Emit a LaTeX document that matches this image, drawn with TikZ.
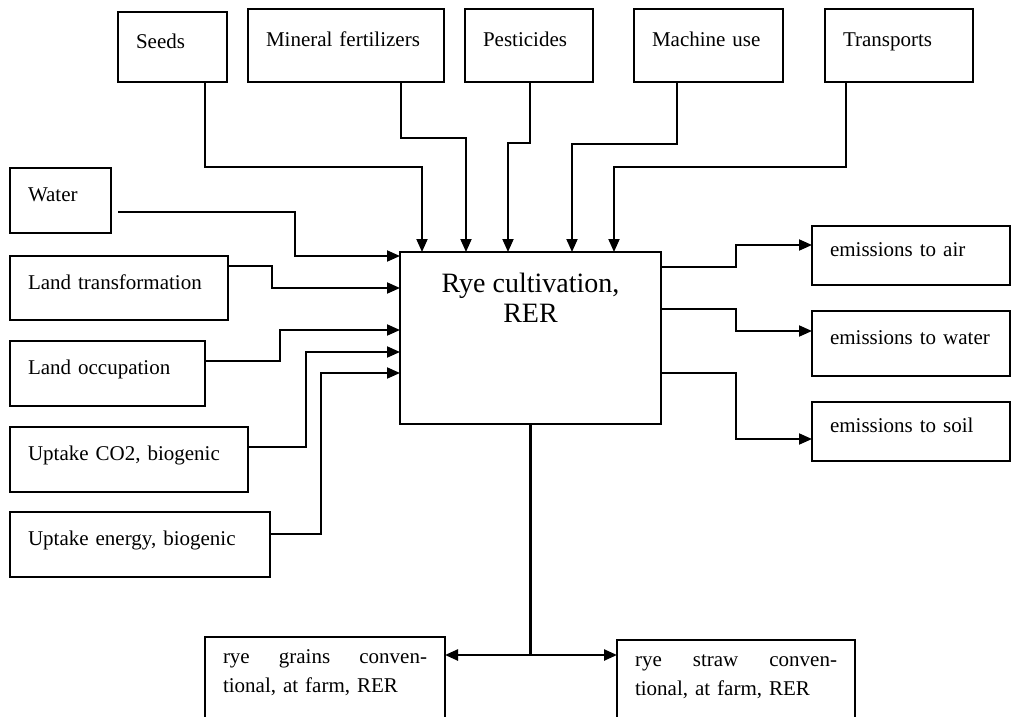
\documentclass[tikz,border=0pt]{standalone}
\usepackage{fontspec}
\setmainfont{Liberation Serif}
\usetikzlibrary{arrows.meta,calc}
\begin{document}
\begin{tikzpicture}[x=1pt,y=-1pt,
  every node/.style={font=\fontsize{21}{29}\selectfont, outer sep=0pt},
  bx/.style={draw, line width=1.3pt, rectangle, anchor=north west,
    inner xsep=18pt, inner ysep=0pt, align=left,
    text height=0.7em, text depth=0.45em},
  outbox/.style={draw, line width=1.3pt, rectangle, anchor=north west,
    inner xsep=18pt, inner ysep=11pt, align=left, text depth=110pt},
  arr/.style={line width=1.9pt, -{Triangle[length=13pt,width=11pt]}},
  dbl/.style={line width=2.4pt, {Triangle[length=13pt,width=11pt]}-{Triangle[length=13pt,width=11pt]}}]

\useasboundingbox (0,0) rectangle (1017,717);
\clip (0,0) rectangle (1017,717);
\fill[white] (0,0) rectangle (1017,717);

% inputs from the technosphere
\node[bx, text width=73pt,  minimum height=70pt] (seeds) at (118,12) {Seeds};
\node[bx, text width=160pt, minimum height=73pt] (fert)  at (248,9)  {Mineral fertilizers};
\node[bx, text width=92pt,  minimum height=73pt] (pest)  at (465,9)  {Pesticides};
\node[bx, text width=113pt, minimum height=73pt] (mach)  at (634,9)  {Machine use};
\node[bx, text width=112pt, minimum height=73pt] (trans) at (825,9)  {Transports};

% inputs from nature
\node[bx, text width=65pt,  minimum height=65pt] (water)   at (10,168) {Water};
\node[bx, text width=182pt, minimum height=64pt] (landtr)  at (10,256) {Land transformation};
\node[bx, text width=159pt, minimum height=65pt] (landocc) at (10,341) {Land occupation};
\node[bx, text width=202pt, minimum height=65pt] (co2)     at (10,427) {Uptake CO2, biogenic};
\node[bx, text width=224pt, minimum height=65pt] (energy)  at (10,512) {Uptake energy, biogenic};

% the process
\node[draw, line width=1.3pt, anchor=north west, minimum width=261pt,
      minimum height=172pt, inner sep=0pt] (rye) at (400,252) {};
\node[font=\fontsize{28}{30}\selectfont, align=center, anchor=north,
      inner sep=0pt] (ryetitle) at ($(rye.north)+(0,21)$) {Rye cultivation,\\RER};

% emissions
\node[bx, text width=162pt, minimum height=59pt] (air)    at (812,226) {emissions to air};
\node[bx, text width=162pt, minimum height=65pt] (ewater) at (812,311) {emissions to water};
\node[bx, text width=162pt, minimum height=59pt] (soil)   at (812,402) {emissions to soil};

% products (first line justified)
\node[outbox, text width=204pt] (grains) at (205,637)
  {\rule{0pt}{15pt}\hbox to 204pt{rye\hfill grains\hfill conven-}\\tional, at farm, RER};
\node[outbox, text width=202pt] (straw) at (617,640)
  {\rule{0pt}{15pt}\hbox to 202pt{rye\hfill straw\hfill conven-}\\tional, at farm, RER};

% connectors from the top
\draw[arr] ($(seeds.south west)+(87,0)$)  -- ++(0,85) -| ($(rye.north west)+(22,0)$);
\draw[arr] ($(fert.south west)+(153,0)$)  -- ++(0,56) -| ($(rye.north west)+(66,0)$);
\draw[arr] ($(pest.south west)+(65,0)$)   -- ++(0,61) -| ($(rye.north west)+(108,0)$);
\draw[arr] ($(mach.south west)+(43,0)$)   -- ++(0,62) -| ($(rye.north west)+(172,0)$);
\draw[arr] ($(trans.south west)+(21,0)$)  -- ++(0,85) -| ($(rye.north west)+(214,0)$);

% connectors from the left
\draw[arr] ($(water.south east)+(7,-21)$) -- ++(177,0) |- ($(rye.north west)+(0,4)$);
\draw[arr] ($(landtr.north east)+(0,10)$)  -- ++(44,0)  |- ($(rye.north west)+(0,36)$);
\draw[arr] ($(landocc.north east)+(0,20)$) -- ++(75,0)  |- ($(rye.north west)+(0,78)$);
\draw[arr] ($(co2.north east)+(0,20)$)     -- ++(58,0)  |- ($(rye.north west)+(0,100)$);
\draw[arr] ($(energy.north east)+(0,22)$)  -- ++(51,0)  |- ($(rye.north west)+(0,121)$);

% connectors to the right
\draw[arr] ($(rye.north east)+(0,15)$)  -- ++(75,0) |- ($(air.north west)+(0,19)$);
\draw[arr] ($(rye.north east)+(0,57)$)  -- ++(75,0) |- ($(ewater.north west)+(0,20)$);
\draw[arr] ($(rye.north east)+(0,121)$) -- ++(75,0) |- ($(soil.north west)+(0,37)$);

% products split
\coordinate (split) at ($(rye.south)+(0,231)$);
\draw[line width=2.4pt] (rye.south) -- (split);
\draw[dbl] (split -| grains.east) -- (split -| straw.west);

\end{tikzpicture}
\end{document}
